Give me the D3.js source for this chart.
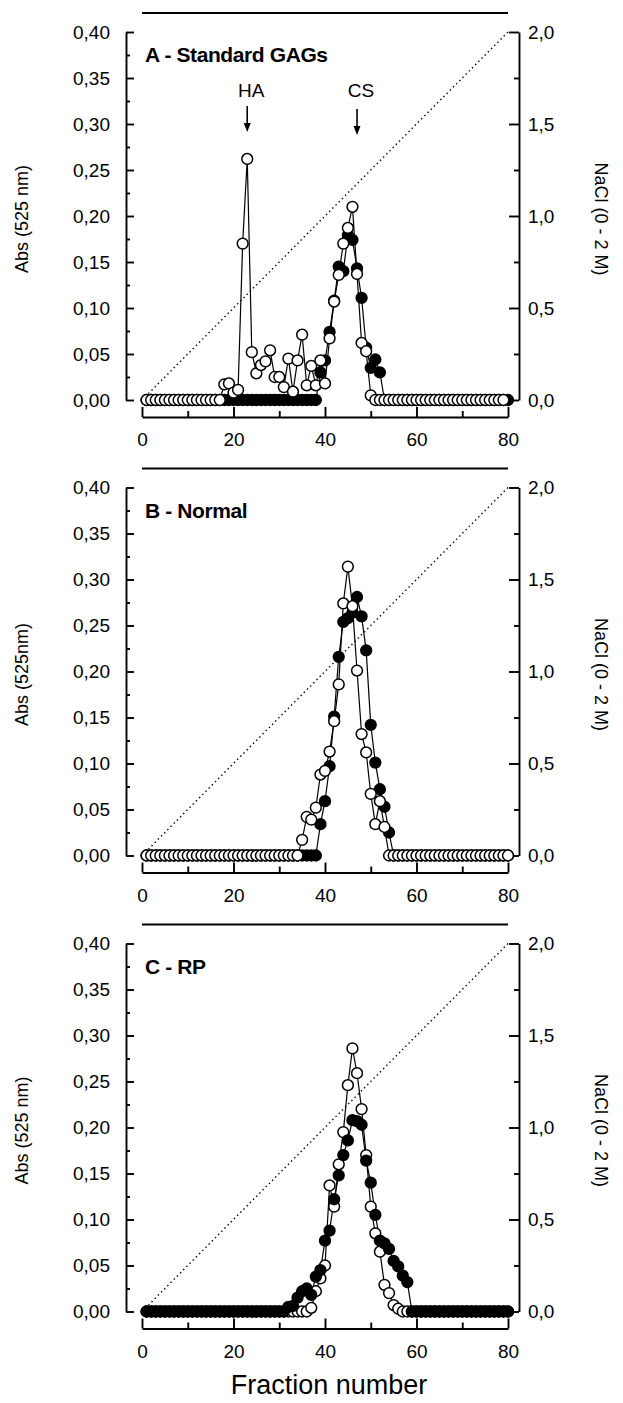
<!DOCTYPE html>
<html><head><meta charset="utf-8">
<script src="https://cdn.jsdelivr.net/npm/d3@7"></script>
<style>
body{margin:0;background:#fff}
svg{display:block}
text{font-family:"Liberation Sans",Arial,Helvetica,sans-serif;fill:#000}
</style>
</head><body>
<svg id="chart" width="623" height="1403"></svg>
<script>
// ---------- data ----------
const panelTitles = ["A - Standard GAGs", "B - Normal", "C - RP"];
const yAxisTitles = ["Abs (525 nm)", "Abs (525nm)", "Abs (525 nm)"];
const y2AxisTitle = "NaCl (0 - 2 M)";
const xAxisTitle = "Fraction number";

const absTicks = [0, 0.05, 0.10, 0.15, 0.20, 0.25, 0.30, 0.35, 0.40];
const absMinor = [0.025, 0.075, 0.125, 0.175, 0.225, 0.275, 0.325, 0.375];
const naclTicks = [0, 0.5, 1.0, 1.5, 2.0];
const naclMinor = [0.25, 0.75, 1.25, 1.75];
const fracTicks = [0, 20, 40, 60, 80];
const fracMinor = [10, 30, 50, 70];

const markerLabels = ["HA", "CS"];
const markerFractions = [23, 47];

// absorbance per fraction (fraction 1 .. n)
const openA = [0,0,0,0,0,0,0,0,0,0,0,0,0,0,0,0,0,
  0.017,0.018,0.008,0.011,0.170,0.262,0.052,0.029,0.038,0.042,0.054,0.025,0.025,0.014,0.045,0.009,0.043,0.071,0.016,0.037,0.016,0.043,0.018,0.067,0.107,0.136,0.170,0.187,0.210,0.137,0.062,0.053,0.005,
  0,0,0,0,0,0,0,0,0,0,0,0,0,0,0,0,0,0,0,0,0,0,0,0,0,0,0,0,0];
const filledA = [0,0,0,0,0,0,0,0,0,0,0,0,0,0,0,0,0,0,0,0,0,0,0,0,0,0,0,0,0,0,0,0,0,0,0,0,0,0,
  0.030,0.043,0.074,0.108,0.145,0.140,0.179,0.174,0.143,0.111,0.057,0.035,0.044,0.030,
  0,0,0,0,0,0,0,0,0,0,0,0,0,0,0,0,0,0,0,0,0,0,0,0,0,0,0,0];
const openB = [0,0,0,0,0,0,0,0,0,0,0,0,0,0,0,0,0,0,0,0,0,0,0,0,0,0,0,0,0,0,0,0,0,0,
  0.017,0.042,0.039,0.052,0.088,0.092,0.113,0.146,0.186,0.274,0.314,0.271,0.201,0.132,0.112,0.067,0.034,0.059,0.031,
  0,0,0,0,0,0,0,0,0,0,0,0,0,0,0,0,0,0,0,0,0,0,0,0,0,0,0];
const filledB = [0,0,0,0,0,0,0,0,0,0,0,0,0,0,0,0,0,0,0,0,0,0,0,0,0,0,0,0,0,0,0,0,0,0,0,0,0,0,
  0.034,0.059,0.097,0.151,0.216,0.254,0.258,0.264,0.281,0.260,0.223,0.142,0.101,0.072,0.053,0.025,
  0,0,0,0,0,0,0,0,0,0,0,0,0,0,0,0,0,0,0,0,0,0,0,0,0,0];
const openC = [0,0,0,0,0,0,0,0,0,0,0,0,0,0,0,0,0,0,0,0,0,0,0,0,0,0,0,0,0,0,0,0,0,0,0,0,
  0.004,0.022,0.036,0.050,0.137,0.114,0.160,0.195,0.246,0.286,0.259,0.220,0.170,0.114,0.085,0.065,0.029,0.020,0.007,0.003,
  0,0,0,0,0,0,0,0,0,0,0,0,0,0,0,0,0,0,0,0,0,0,0,0];
const filledC = [0,0,0,0,0,0,0,0,0,0,0,0,0,0,0,0,0,0,0,0,0,0,0,0,0,0,0,0,0,0,0,
  0.005,0.006,0.015,0.022,0.025,0.018,0.038,0.045,0.077,0.088,0.122,0.148,0.170,0.186,0.208,0.207,0.203,0.164,0.140,0.105,0.077,0.074,0.068,0.055,0.049,0.039,0.032,
  0,0,0,0,0,0,0,0,0,0,0,0,0,0,0,0,0,0,0,0,0,0];

// ---------- layout ----------
const panelTops = [32, 487.5, 943.5];
const plotH = 368;
const openOnTop = [true, true, false];
const openSeries = [openA, openB, openC];
const filledSeries = [filledA, filledB, filledC];

const svg = d3.select("#chart");
const FONT = '"Liberation Sans",Arial,Helvetica,sans-serif';
const x = d3.scaleLinear().domain([0, 80]).range([142, 508]);
const fmtAbs = d => d3.format(".2f")(d).replace(".", ",");
const fmtNacl = d => d3.format(".1f")(d).replace(".", ",");
const leftX = 126, rightX = 519;

function styleAxis(g, fs) {
  g.attr("font-family", FONT).attr("font-size", fs);
  g.selectAll("path").attr("stroke", "#000").attr("stroke-width", 1.9);
  g.selectAll("line").attr("stroke", "#000").attr("stroke-width", 1.9);
  g.selectAll("text").attr("fill", "#000");
}

panelTops.forEach((top, pi) => {
  const g = svg.append("g");
  const bottom = top + plotH;
  const y = d3.scaleLinear().domain([0, 0.4]).range([bottom, top]);
  const y2 = d3.scaleLinear().domain([0, 2]).range([bottom, top]);

  // top rule
  g.append("line").attr("x1", x(0)).attr("x2", x(80))
    .attr("y1", top - 19).attr("y2", top - 19)
    .attr("stroke", "#000").attr("stroke-width", 2.2);

  // NaCl gradient (dotted)
  g.append("line").attr("x1", x(0)).attr("y1", y2(0)).attr("x2", x(80)).attr("y2", y2(2))
    .attr("stroke", "#000").attr("stroke-width", 1.4).attr("stroke-dasharray", "1.4,3.1");

  // left axis
  const la = g.append("g").attr("transform", `translate(${leftX},0)`)
    .call(d3.axisLeft(y).tickValues(absTicks).tickSize(-8).tickSizeOuter(0).tickPadding(16).tickFormat(fmtAbs));
  styleAxis(la, 19);
  const lam = g.append("g").attr("transform", `translate(${leftX},0)`)
    .call(d3.axisLeft(y).tickValues(absMinor).tickSize(-4).tickSizeOuter(0).tickFormat(""));
  styleAxis(lam, 19);
  lam.select("path").remove();

  // right axis
  const ra = g.append("g").attr("transform", `translate(${rightX},0)`)
    .call(d3.axisRight(y2).tickValues(naclTicks).tickSize(-10).tickSizeOuter(0).tickPadding(9).tickFormat(fmtNacl));
  styleAxis(ra, 19);
  const ram = g.append("g").attr("transform", `translate(${rightX},0)`)
    .call(d3.axisRight(y2).tickValues(naclMinor).tickSize(-5).tickSizeOuter(0).tickFormat(""));
  styleAxis(ram, 19);
  ram.select("path").remove();

  // bottom axis (offset)
  const xa = g.append("g").attr("transform", `translate(0,${bottom + 17})`)
    .call(d3.axisBottom(x).tickValues(fracTicks).tickSize(-10).tickSizeOuter(0).tickPadding(16).tickFormat(d3.format("d")));
  styleAxis(xa, 19);
  const xam = g.append("g").attr("transform", `translate(0,${bottom + 17})`)
    .call(d3.axisBottom(x).tickValues(fracMinor).tickSize(-6).tickSizeOuter(0).tickFormat(""));
  styleAxis(xam, 19);
  xam.select("path").remove();

  // axis titles
  g.append("text").attr("transform", `translate(22,${top + plotH / 2 + 3}) rotate(-90)`)
    .attr("text-anchor", "middle").attr("dominant-baseline", "central")
    .attr("font-size", 18).text(yAxisTitles[pi]);
  g.append("text").attr("transform", `translate(601,${top + plotH / 2 + 3}) rotate(90)`)
    .attr("text-anchor", "middle").attr("dominant-baseline", "central")
    .attr("font-size", 18).text(y2AxisTitle);

  // panel title
  g.append("text").attr("x", 145).attr("y", top + 30)
    .attr("font-size", 21).attr("font-weight", "bold").attr("letter-spacing", -0.4)
    .text(panelTitles[pi]);

  // series
  const line = d3.line().x((d, i) => x(i + 1)).y(d => y(d));
  const drawLine = s => g.append("path").datum(s).attr("d", line)
    .attr("fill", "none").attr("stroke", "#000").attr("stroke-width", 1.2);
  const drawDots = (s, fill) => g.append("g").selectAll("circle").data(s).join("circle")
    .attr("cx", (d, i) => x(i + 1)).attr("cy", d => y(d)).attr("r", 5.4)
    .attr("fill", fill).attr("stroke", "#000").attr("stroke-width", 1.5);

  const o = openSeries[pi], f = filledSeries[pi];
  if (openOnTop[pi]) {
    drawLine(f); drawLine(o); drawDots(f, "#000"); drawDots(o, "#fff");
  } else {
    drawLine(o); drawLine(f); drawDots(o, "#fff"); drawDots(f, "#000");
  }

  // HA / CS arrows in panel A
  if (pi === 0) {
    markerFractions.forEach((fr, k) => {
      const ax = x(fr);
      g.append("text").attr("x", ax + 4).attr("y", 97).attr("text-anchor", "middle")
        .attr("font-size", 19).text(markerLabels[k]);
      const y1 = k === 0 ? 106 : 109, y2e = k === 0 ? 132 : 135;
      g.append("line").attr("x1", ax).attr("x2", ax).attr("y1", y1).attr("y2", y2e - 6)
        .attr("stroke", "#000").attr("stroke-width", 1.6);
      g.append("path").attr("d", `M${ax - 3.5},${y2e - 9} L${ax + 3.5},${y2e - 9} L${ax},${y2e} Z`).attr("fill", "#000");
    });
  }
});

svg.append("text").attr("x", 329).attr("y", 1394).attr("text-anchor", "middle")
  .attr("font-size", 27).text(xAxisTitle);
</script>
</body></html>
